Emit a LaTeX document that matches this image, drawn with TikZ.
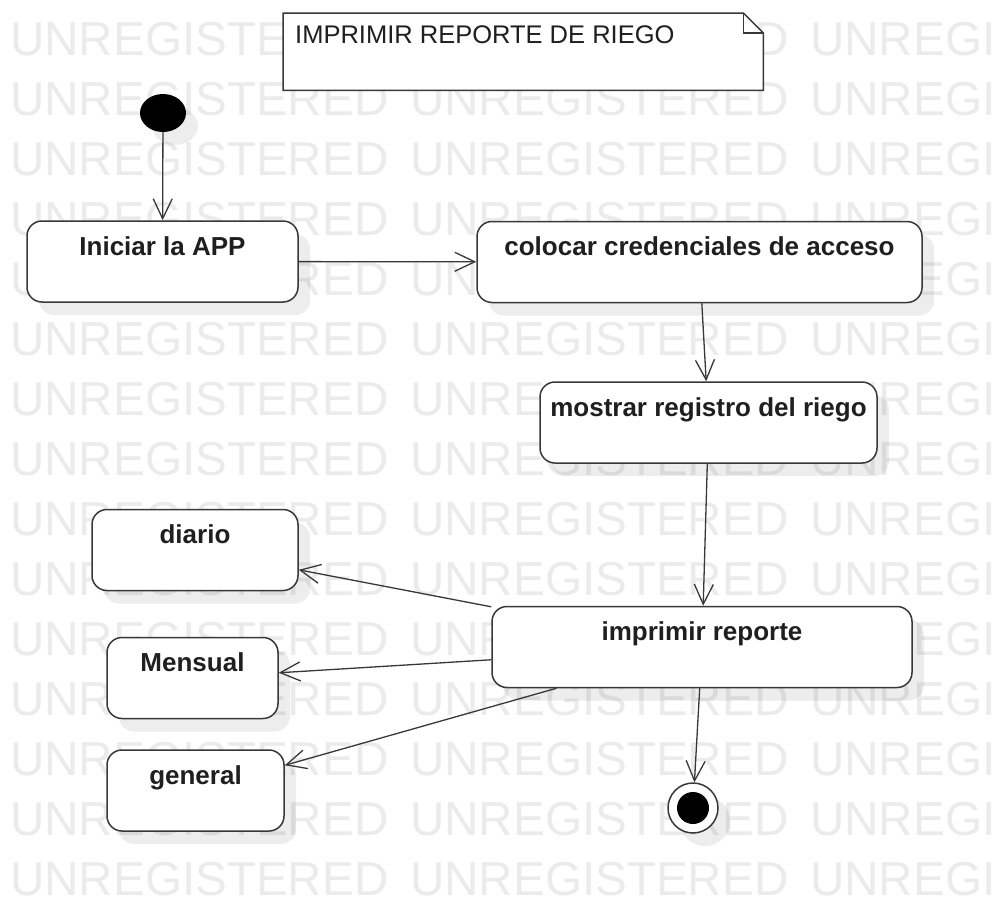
\documentclass[tikz,border=0pt]{standalone}
\usepackage{fontspec}
\setmainfont{Liberation Sans}
\usetikzlibrary{arrows.meta,shapes.geometric,shadows,calc}

\begin{document}
\begin{tikzpicture}[x=1pt,y=-1pt,
  edge/.style={draw=black!78, line width=1.3pt},
  flow/.style={edge, -{Straight Barb[length=20pt,width=19pt,line width=1.3pt]}},
  shade/.style={drop shadow={shadow xshift=12pt,shadow yshift=-13pt,fill=black,opacity=0.07}},
  activity/.style={rectangle, rounded corners=15pt, draw=black!78, line width=1.5pt,
    fill=white, shade, inner sep=0pt, text height=34pt, text depth=47pt,
    font=\fontsize{26}{30}\selectfont\bfseries, text=black!88},
  wmark/.style={anchor=base west, inner sep=0pt, text=black!8,
    font=\fontsize{47.6}{50}\selectfont}
]
\useasboundingbox (0,0) rectangle (994,897);
\fill[white] (0,0) rectangle (994,897);

% background watermark rows
\begin{scope}
  \clip (0,0) rectangle (994,897);
  \foreach \r in {0,...,14} {
    \foreach \c in {0,1,2} {
      \node[wmark] (wm-\r-\c) at (10+400*\c, 55+60*\r) {UNREGISTERED};
    }
  }
\end{scope}

% note with folded corner
\node[minimum width=480pt, minimum height=77pt, inner sep=0pt, anchor=north west] (note) at (283,13) {};
\draw[edge, line width=1.5pt, fill=white]
  (note.north west) -- ($(note.north east)+(-20,0)$) -- ($(note.north east)+(0,20)$)
  -- (note.south east) -- (note.south west) -- cycle;
\draw[edge, line width=1.5pt]
  ($(note.north east)+(-20,0)$) -- ($(note.north east)+(-20,20)$) -- ($(note.north east)+(0,20)$);
\node[anchor=base west, inner sep=0pt, font=\fontsize{25.5}{30}\selectfont, text=black!88]
  (notetext) at (295,43) {IMPRIMIR REPORTE DE RIEGO};

% initial and final states
\node[ellipse, fill=black, minimum width=46pt, minimum height=38pt, inner sep=0pt, shade] (start) at (163,113) {};
\node[circle, draw=black!78, line width=1.5pt, fill=white, minimum size=50pt, inner sep=0pt, shade] (end) at (693,808) {};
\fill[black] (end.center) circle (16pt);

% activities
\node[activity, minimum width=271pt] (iniciar)  at (162.5,261.5) {Iniciar la APP};
\node[activity, minimum width=445pt] (colocar)  at (699.5,262)   {colocar credenciales de acceso};
\node[activity, minimum width=337pt] (mostrar)  at (708.5,422.5) {mostrar registro del riego};
\node[activity, minimum width=420pt] (imprimir) at (702,647)     {imprimir reporte};
\node[activity, minimum width=206pt] (diario)   at (195,550)     {diario};
\node[activity, minimum width=171pt] (mensual)  at (192.5,678)   {Mensual};
\node[activity, minimum width=177pt] (general)  at (195.5,790.5) {general};

% transitions
\draw[flow] (start) -- (iniciar);
\draw[flow] (iniciar) -- (colocar);
\draw[flow] (colocar) -- (mostrar);
\draw[flow] (mostrar) -- (imprimir);
\draw[flow] (imprimir) -- (diario);
\draw[flow] (imprimir) -- (mensual);
\draw[flow] (imprimir) -- (general);
\draw[flow] (imprimir) -- (end);
\end{tikzpicture}
\end{document}
